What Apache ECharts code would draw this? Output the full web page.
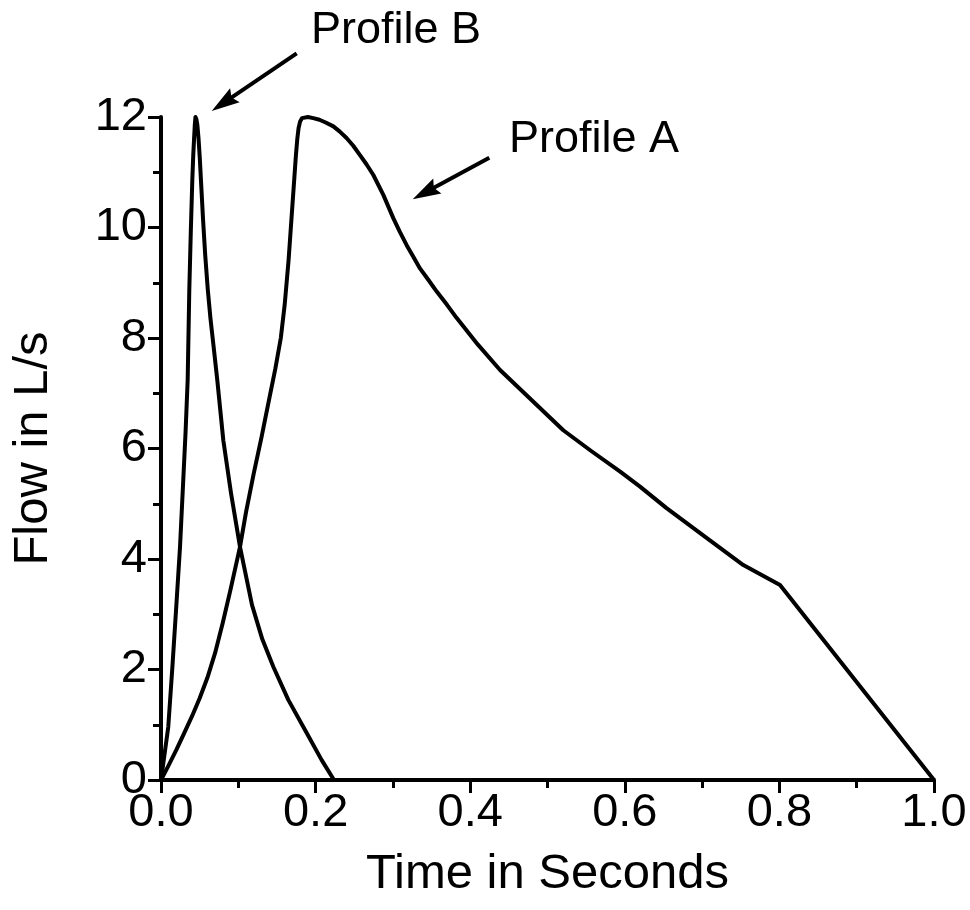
<!DOCTYPE html>
<html><head><meta charset="utf-8">
<script src="https://cdn.jsdelivr.net/npm/echarts@6/dist/echarts.min.js"></script>
<style>html,body{margin:0;padding:0;background:#fff}#c{width:970px;height:910px}</style>
</head><body><div id="c"></div>
<script>
// ---- data ----
const xTickValues = [0.0, 0.2, 0.4, 0.6, 0.8, 1.0];
const yTickValues = [0, 2, 4, 6, 8, 10, 12];
const timeA = [0, 0.01, 0.02, 0.03, 0.04, 0.05, 0.06, 0.07, 0.08, 0.09, 0.1022, 0.11, 0.12, 0.13, 0.14, 0.148, 0.155, 0.160, 0.165, 0.169, 0.172, 0.1745, 0.1763, 0.178, 0.180, 0.1825, 0.185, 0.190, 0.197, 0.205, 0.213, 0.223, 0.231, 0.240, 0.2487, 0.2574, 0.2660, 0.2747, 0.2876, 0.3005, 0.3090, 0.3178, 0.3264, 0.3350, 0.3460, 0.3567, 0.3700, 0.3826, 0.4100, 0.4386, 0.4800, 0.5204, 0.5570, 0.594, 0.6197, 0.654, 0.7040, 0.7533, 0.8008, 1.0];
const flowA = [0, 0.27, 0.55, 0.85, 1.15, 1.48, 1.85, 2.3, 2.85, 3.45, 4.22, 4.85, 5.55, 6.2, 6.9, 7.45, 8.0, 8.6, 9.4, 10.2, 10.8, 11.3, 11.6, 11.8, 11.92, 11.98, 12.0, 12.0, 11.98, 11.95, 11.9, 11.83, 11.74, 11.62, 11.48, 11.31, 11.14, 10.95, 10.59, 10.17, 9.92, 9.68, 9.47, 9.26, 9.05, 8.84, 8.6, 8.36, 7.88, 7.42, 6.87, 6.33, 5.95, 5.58, 5.31, 4.92, 4.40, 3.89, 3.53, 0];
const timeB = [0, 0.0094, 0.0150, 0.0203, 0.0246, 0.0288, 0.0318, 0.0345, 0.0366, 0.0386, 0.0405, 0.0417, 0.0427, 0.0437, 0.0446, 0.0458, 0.0470, 0.0485, 0.0502, 0.0522, 0.0545, 0.0572, 0.0605, 0.0640, 0.0680, 0.0728, 0.0806, 0.0906, 0.1022, 0.1177, 0.1310, 0.1453, 0.1647, 0.1885, 0.2079, 0.2238];
const flowB = [0, 0.96, 2.1, 3.26, 4.22, 5.43, 6.3, 7.24, 8.87, 9.95, 10.86, 11.3, 11.58, 11.85, 12.0, 11.96, 11.86, 11.62, 11.25, 10.72, 10.12, 9.5, 8.88, 8.35, 7.85, 7.24, 6.15, 5.19, 4.22, 3.17, 2.55, 2.05, 1.45, 0.85, 0.36, 0];
const seriesNames = ['Profile A', 'Profile B'];
const xAxisTitle = 'Time in Seconds';
const yAxisTitle = 'Flow in L/s';

const FONT = '"Liberation Sans", Arial, Helvetica, sans-serif';
const chart = echarts.init(document.getElementById('c'), null, {renderer: 'canvas'});

function arrow(x1, y1, x2, y2) {
  const dx = x2 - x1, dy = y2 - y1, L = Math.hypot(dx, dy);
  const ux = dx / L, uy = dy / L, hl = 28, hw = 8.5, notch = 4;
  const bx = x2 - ux * hl, by = y2 - uy * hl;
  return [
    {type: 'line', shape: {x1: x1, y1: y1, x2: bx + ux * 6, y2: by + uy * 6}, style: {stroke: '#000', lineWidth: 4}, silent: true},
    {type: 'polygon', shape: {points: [[x2, y2], [bx - uy * hw, by + ux * hw], [bx + ux * notch, by + uy * notch], [bx + uy * hw, by - ux * hw]]}, style: {fill: '#000'}, silent: true}
  ];
}

const option = {
  animation: false,
  backgroundColor: '#fff',
  grid: {left: 161, right: 36, top: 117, bottom: 130, containLabel: false},
  xAxis: {
    type: 'value', min: 0, max: 1, interval: 0.2,
    name: xAxisTitle, nameLocation: 'middle', nameGap: 70,
    nameTextStyle: {fontFamily: FONT, fontSize: 49, color: '#000'},
    axisLine: {show: true, onZero: false, lineStyle: {color: '#000', width: 4}},
    axisTick: {show: true, inside: false, length: 13, lineStyle: {color: '#000', width: 3}},
    minorTick: {show: true, splitNumber: 2, length: 8, lineStyle: {color: '#000', width: 3}},
    axisLabel: {fontFamily: FONT, fontSize: 47, color: '#000', margin: 10,
      formatter: v => (xTickValues.indexOf(Math.round(v * 10) / 10) >= 0 ? v.toFixed(1) : '')},
    splitLine: {show: false}, minorSplitLine: {show: false}
  },
  yAxis: {
    type: 'value', min: 0, max: 12, interval: 2,
    name: yAxisTitle, nameLocation: 'middle', nameGap: 103, nameRotate: 90,
    nameTextStyle: {fontFamily: FONT, fontSize: 49, color: '#000'},
    axisLine: {show: true, onZero: false, lineStyle: {color: '#000', width: 4}},
    axisTick: {show: true, inside: false, length: 13, lineStyle: {color: '#000', width: 3}},
    minorTick: {show: true, splitNumber: 2, length: 8, lineStyle: {color: '#000', width: 3}},
    axisLabel: {fontFamily: FONT, fontSize: 47, color: '#000', margin: 14,
      formatter: v => (yTickValues.indexOf(v) >= 0 ? String(v) : '')},
    splitLine: {show: false}, minorSplitLine: {show: false}
  },
  series: [
    {name: seriesNames[0], type: 'line', data: timeA.map((t, i) => [t, flowA[i]]),
     showSymbol: false, smooth: false, clip: false,
     lineStyle: {color: '#000', width: 4, join: 'round'}},
    {name: seriesNames[1], type: 'line', data: timeB.map((t, i) => [t, flowB[i]]),
     showSymbol: false, smooth: false, clip: false,
     lineStyle: {color: '#000', width: 4, join: 'round'}}
  ],
  graphic: [
    {type: 'text', left: 311, top: 8, style: {text: seriesNames[1], font: '45px ' + FONT, fill: '#000'}},
    {type: 'text', left: 509, top: 117, style: {text: seriesNames[0], font: '45px ' + FONT, fill: '#000'}}
  ].concat(arrow(296.7, 53.3, 211.7, 111)).concat(arrow(489.3, 157.7, 412.7, 199.3))
};
chart.setOption(option);
</script>
</body></html>
